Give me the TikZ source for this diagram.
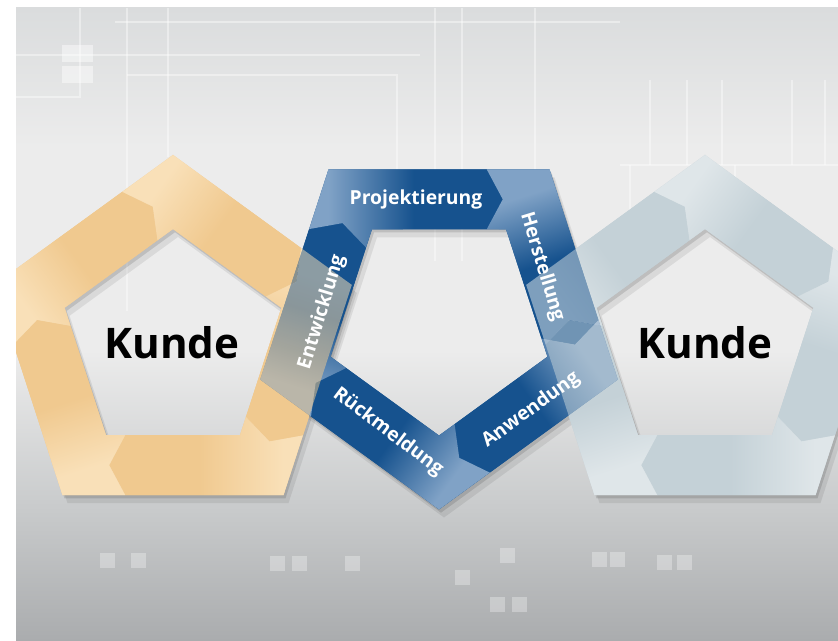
\documentclass[tikz,border=0pt]{standalone}
\usepackage{fontspec}
\setmainfont{Open Sans}

\definecolor{bluedark}{RGB}{22,82,142}
\definecolor{bluelight}{RGB}{128,162,198}
\definecolor{orangedark}{RGB}{240,201,143}
\definecolor{orangelight}{RGB}{249,224,184}
\definecolor{greydark}{RGB}{196,209,215}
\definecolor{greylight}{RGB}{223,230,233}
\definecolor{bgtop}{RGB}{218,220,221}
\definecolor{bglight}{RGB}{236,236,236}
\definecolor{bgmid}{RGB}{202,204,205}
\definecolor{bgbottom}{RGB}{170,172,174}

\pgfdeclarehorizontalshading{segblue}{100bp}{color(0bp)=(bluelight); color(30bp)=(bluelight); color(52bp)=(bluedark); color(100bp)=(bluedark)}
\pgfdeclarehorizontalshading{segorange}{100bp}{color(0bp)=(orangelight); color(30bp)=(orangelight); color(52bp)=(orangedark); color(100bp)=(orangedark)}
\pgfdeclarehorizontalshading{seggrey}{100bp}{color(0bp)=(greylight); color(30bp)=(greylight); color(52bp)=(greydark); color(100bp)=(greydark)}
\pgfdeclareverticalshading{backdrop}{100bp}{color(0bp)=(bgbottom); color(25bp)=(bgbottom); color(36bp)=(bgmid); color(48bp)=(bglight); color(64bp)=(bglight); color(75bp)=(bgtop); color(100bp)=(bgtop)}

\tikzset{
  trace/.style={white, opacity=.4, line width=.8pt},
  pad/.style={white, opacity=.3},
  seglabel/.style={white, font=\bfseries\fontsize{11}{13}\selectfont},
  kunde/.style={black, font=\bfseries\fontsize{24}{28}\selectfont},
}

\begin{document}
\begin{tikzpicture}[x=0.02cm, y=0.02cm]
  \useasboundingbox (0,0) rectangle (838,641);
  \fill[white] (0,0) rectangle (838,641);
  \clip (16,0) rectangle (838,633);

  % backdrop
  \shade[shading=backdrop] (16,0) rectangle (838,633);

  % circuit traces
  \draw[trace] (127,633) -- (127,330);
  \draw[trace] (168,633) -- (168,484);
  \draw[trace] (115,619) -- (620,619);
  \draw[trace] (16,586) -- (420,586);
  \draw[trace] (127,566) -- (397,566) -- (397,471);
  \draw[trace] (16,544) -- (80,544) -- (80,633);
  \draw[trace] (435,633) -- (435,380);
  \draw[trace] (535,633) -- (535,471);
  \draw[trace] (462,633) -- (462,380);
  \draw[trace] (620,476) -- (838,476);
  \draw[trace] (630,476) -- (630,410);
  \draw[trace] (735,476) -- (735,410);
  \foreach \px in {650,687,722,792,825}
    \draw[trace] (\px,561) -- (\px,476);
  \fill[pad, opacity=.45] (62,579) rectangle (93,596);
  \fill[pad, opacity=.45] (62,558) rectangle (93,575);
  \foreach \px/\py in {100/553,131/553,270/556,292/556,345/556,500/548,455/570,490/597,512/597,592/552,610/552,657/555,677/555}
    \fill[pad] (\px,626-\py) rectangle (\px+15,641-\py);

  % ring shadows
  \foreach \cx/\cy/\rot in {173/298/0, 705/298/0, 439/319.5/180}{
    \foreach \d/\o in {2/.12, 5/.08}
      \fill[black, opacity=\o, even odd rule, shift={(\cx+\d,\cy-1.6*\d)}, rotate=\rot]
        (90:188) -- (18:188) -- (-54:188) -- (-126:188) -- (162:188) -- cycle
        (90:114) -- (18:114) -- (-54:114) -- (-126:114) -- (162:114) -- cycle;
  }

  % rings: base, then the five arrow segments
  \foreach \cx/\cy/\rot/\shd/\base in {173/298/0/segorange/orangedark, 705/298/0/seggrey/greydark, 439/319.5/180/segblue/bluedark}{
    \begin{scope}[shift={(\cx,\cy)}, rotate=\rot]
      \fill[\base, even odd rule]
        (90:188) -- (18:188) -- (-54:188) -- (-126:188) -- (162:188) -- cycle
        (90:114) -- (18:114) -- (-54:114) -- (-126:114) -- (162:114) -- cycle;
      \foreach \k in {0,...,4}{
        \pgfmathsetmacro\ang{36+\rot-72*\k}
        \shade[shading=\shd, shading angle=\ang, rotate=-72*\k]
          (-159.38,-1.57) -- (-178.80,58.10) -- (-50.74,151.09) -- (-20.23,136.31)
          -- (-15.60,102.71) -- (-108.42,35.23) -- (-102.50,16.91) -- (-135.88,22.88) -- cycle;
      }
    \end{scope}
  }

  % orange and grey seen through where they cross the blue ring
  \foreach \cx/\shd in {173/segorange, 705/seggrey}{
    \begin{scope}[shift={(\cx,298)}]
      \foreach \k in {0,...,4}{
        \pgfmathsetmacro\ang{36-72*\k}
        \shade[shading=\shd, shading angle=\ang, rotate=-72*\k, opacity=.52]
          (-159.38,-1.57) -- (-178.80,58.10) -- (-50.74,151.09) -- (-20.23,136.31)
          -- (-15.60,102.71) -- (-108.42,35.23) -- (-102.50,16.91) -- (-135.88,22.88) -- cycle;
      }
    \end{scope}
  }

  % labels
  \node[seglabel] (projektierung) at (416,442) {Projektierung};
  \node[seglabel, rotate=-73] (herstellung) at (542,374) {Herstellung};
  \node[seglabel, rotate=36] (anwendung) at (531,231) {Anwendung};
  \node[seglabel, rotate=-37] (rueckmeldung) at (388,209) {Rückmeldung};
  \node[seglabel, rotate=73] (entwicklung) at (322,329) {Entwicklung};
  \node[kunde] (kundeL) at (172,298) {Kunde};
  \node[kunde] (kundeR) at (705,298) {Kunde};
\end{tikzpicture}
\end{document}
